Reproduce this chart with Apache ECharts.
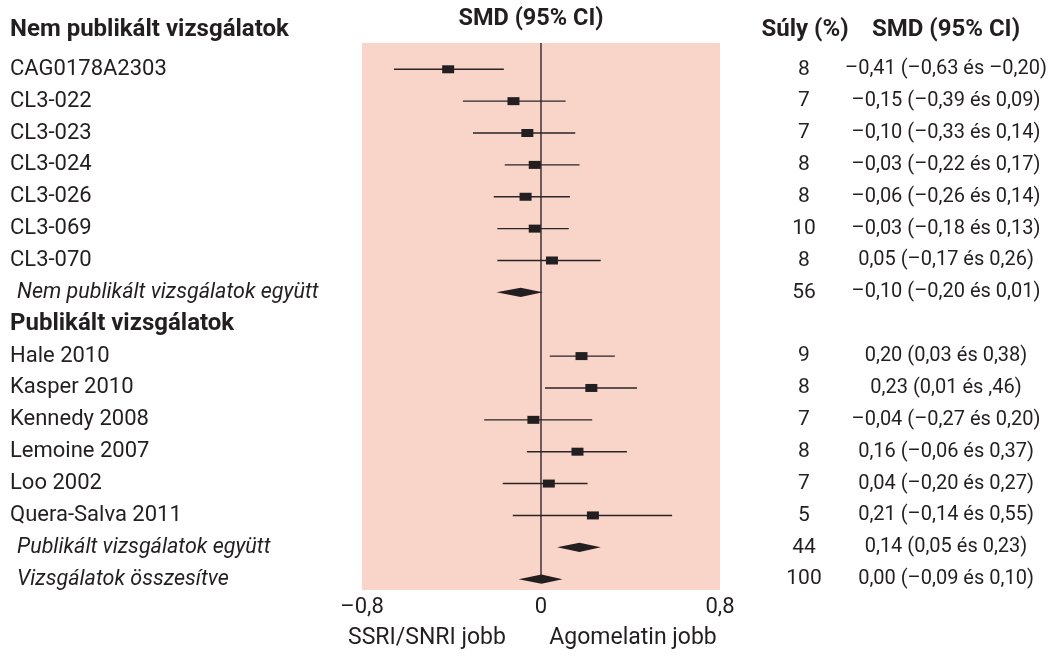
<!DOCTYPE html>
<html>
<head>
<meta charset="utf-8">
<script src="https://cdn.jsdelivr.net/npm/echarts@6/dist/echarts.min.js"></script>
<style>
html,body{margin:0;padding:0;background:#fff;}
#chart{width:1050px;height:657px;}
</style>
</head>
<body>
<div id="chart"></div>
<script>
// ---- data ----
const rowLabels = ['CAG0178A2303','CL3-022','CL3-023','CL3-024','CL3-026','CL3-069','CL3-070',
  'Nem publikált vizsgálatok együtt','Publikált vizsgálatok','Hale 2010','Kasper 2010','Kennedy 2008',
  'Lemoine 2007','Loo 2002','Quera-Salva 2011','Publikált vizsgálatok együtt','Vizsgálatok összesítve'];
const rowKinds = ['study','study','study','study','study','study','study','pooled','header',
  'study','study','study','study','study','study','pooled','pooled'];
// point estimates and CI ends as drawn in the figure
const smdValues = [-0.415,-0.123,-0.061,-0.028,-0.069,-0.028,0.049,-0.091,null,0.181,0.225,-0.034,0.163,0.035,0.232,0.172,0.002];
const ciLow  = [-0.657,-0.349,-0.304,-0.162,-0.211,-0.195,-0.195,-0.199,null,0.039,0.018,-0.254,-0.063,-0.171,-0.126,0.072,-0.100];
const ciHigh = [-0.166,0.110,0.153,0.172,0.129,0.124,0.267,0.008,null,0.330,0.429,0.229,0.384,0.208,0.586,0.267,0.096];
const weightLabels = ['8','7','7','8','8','10','8','56','','9','8','7','8','7','5','44','100'];
const smdLabels = ['–0,41 (–0,63 és –0,20)','–0,15 (–0,39 és 0,09)','–0,10 (–0,33 és 0,14)','–0,03 (–0,22 és 0,17)',
  '–0,06 (–0,26 és 0,14)','–0,03 (–0,18 és 0,13)','0,05 (–0,17 és 0,26)','–0,10 (–0,20 és 0,01)','',
  '0,20 (0,03 és 0,38)','0,23 (0,01 és ,46)','–0,04 (–0,27 és 0,20)','0,16 (–0,06 és 0,37)',
  '0,04 (–0,20 és 0,27)','0,21 (–0,14 és 0,55)','0,14 (0,05 és 0,23)','0,00 (–0,09 és 0,10)'];
const xTicks = [-0.8, 0, 0.8];
const firstHeader = 'Nem publikált vizsgálatok';
const plotTitle = 'SMD (95% CI)';
const weightTitle = 'Súly (%)';
const smdTitle = 'SMD (95% CI)';
const leftNote = 'SSRI/SNRI jobb';
const rightNote = 'Agomelatin jobb';

const FONT = 'Roboto, "Noto Sans", sans-serif';
const INK = '#231f20';

const chart = echarts.init(document.getElementById('chart'), null, {renderer:'canvas'});

const rowsData = rowLabels.map((s, i) => [0, i]);

function textSeries(getText, xPix, align, sizeFn, weightFn, styleFn) {
  return {
    type: 'custom', silent: true, clip: false, z: 5,
    data: rowsData,
    renderItem: (params, api) => {
      const i = api.value(1);
      const t = getText(i);
      if (!t) return null;
      const p = api.coord([0, i]);
      return {
        type: 'text', x: typeof xPix === 'function' ? xPix(i) : xPix, y: p[1],
        style: {
          text: t, fill: INK, align: align, verticalAlign: 'middle',
          fontFamily: FONT, fontSize: sizeFn(i), fontWeight: weightFn(i), fontStyle: styleFn(i)
        }
      };
    }
  };
}

const option = {
  animation: false,
  backgroundColor: '#ffffff',
  grid: { left: 362, right: 330, top: 43, bottom: 67, show: true, backgroundColor: '#f9d4c8', borderWidth: 0 },
  xAxis: {
    type: 'value', min: -0.8, max: 0.8, interval: 0.8,
    axisLine: {show: false}, axisTick: {show: false}, splitLine: {show: false},
    axisLabel: {
      margin: 6, fontSize: 22, color: INK, fontFamily: FONT,
      formatter: v => {
        if (Math.abs(v) < 1e-9) return '0';
        return (v < 0 ? '–' : '') + Math.abs(v).toFixed(1).replace('.', ',');
      }
    }
  },
  yAxis: { type: 'value', inverse: true, min: -0.825, max: 16.34, show: false },
  series: [
    // zero reference line
    {
      type: 'line', data: [[0, -0.825], [0, 16.1]], symbol: 'none', silent: true,
      lineStyle: {color: '#3b3435', width: 1.5}, z: 2
    },
    // CIs, squares, diamonds
    {
      type: 'custom', silent: true, z: 3,
      data: rowLabels.map((s, i) => [smdValues[i], ciLow[i], ciHigh[i], i]).filter(d => d[0] !== null),
      renderItem: (params, api) => {
        const m = api.value(0), lo = api.value(1), hi = api.value(2), i = api.value(3);
        const pm = api.coord([m, i]);
        const pl = api.coord([lo, i]);
        const ph = api.coord([hi, i]);
        if (rowKinds[i] === 'pooled') {
          return {
            type: 'polygon',
            shape: {points: [[pl[0], pm[1]], [pm[0], pm[1] - 4.6], [ph[0], pm[1]], [pm[0], pm[1] + 4.6]]},
            style: {fill: INK}
          };
        }
        return {
          type: 'group',
          children: [
            {type: 'line', shape: {x1: pl[0], y1: pm[1], x2: ph[0], y2: pm[1]}, style: {stroke: '#2a2526', lineWidth: 1.4}},
            {type: 'rect', shape: {x: pm[0] - 6, y: pm[1] - 4, width: 12, height: 8}, style: {fill: INK}}
          ]
        };
      }
    },
    // left labels
    textSeries(i => rowLabels[i], i => rowKinds[i] === 'pooled' ? 17 : 10, 'left',
      i => rowKinds[i] === 'header' ? 24 : (rowKinds[i] === 'pooled' ? 21.5 : 22),
      i => rowKinds[i] === 'header' ? 'bold' : 'normal', i => rowKinds[i] === 'pooled' ? 'italic' : 'normal'),
    // weights
    textSeries(i => weightLabels[i], 804, 'center', i => 21, i => 'normal', i => 'normal'),
    // SMD text
    textSeries(i => smdLabels[i], 946, 'center', i => 20, i => 'normal', i => 'normal')
  ],
  graphic: [
    {type: 'text', x: 10, y: 30, style: {text: firstHeader, fill: INK, fontFamily: FONT, fontSize: 24, fontWeight: 'bold', verticalAlign: 'middle', align: 'left'}},
    {type: 'text', x: 531, y: 19, style: {text: plotTitle, fill: INK, fontFamily: FONT, fontSize: 23.5, fontWeight: 'bold', verticalAlign: 'middle', align: 'center'}},
    {type: 'text', x: 805, y: 30, style: {text: weightTitle, fill: INK, fontFamily: FONT, fontSize: 24, fontWeight: 'bold', verticalAlign: 'middle', align: 'center'}},
    {type: 'text', x: 946, y: 30, style: {text: smdTitle, fill: INK, fontFamily: FONT, fontSize: 24, fontWeight: 'bold', verticalAlign: 'middle', align: 'center'}},
    {type: 'text', x: 427, y: 638, style: {text: leftNote, fill: INK, fontFamily: FONT, fontSize: 23, verticalAlign: 'middle', align: 'center'}},
    {type: 'text', x: 633, y: 638, style: {text: rightNote, fill: INK, fontFamily: FONT, fontSize: 23, verticalAlign: 'middle', align: 'center'}}
  ]
};
chart.setOption(option);
</script>
</body>
</html>
